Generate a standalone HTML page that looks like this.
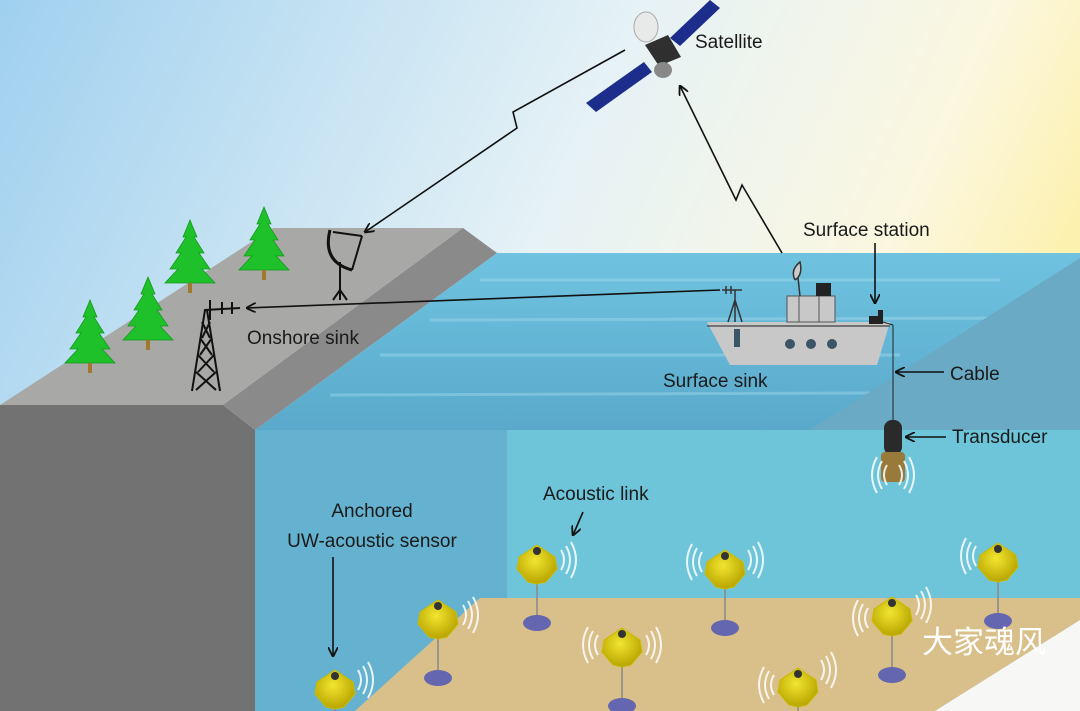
<!DOCTYPE html>
<html><head><meta charset="utf-8"><style>
html,body{margin:0;padding:0;width:1080px;height:711px;overflow:hidden}
svg{display:block}
svg text{font-family:"Liberation Sans","DejaVu Sans",sans-serif;fill:#1a1a1a}
</style></head><body>
<svg width="1080" height="711" viewBox="0 0 1080 711" xmlns="http://www.w3.org/2000/svg">
<defs>
<linearGradient id="sky" x1="0" y1="0" x2="1" y2="0.3">
<stop offset="0" stop-color="#9fd0ef"/><stop offset="0.55" stop-color="#e6f2f6"/><stop offset="0.85" stop-color="#fbf7e0"/><stop offset="1" stop-color="#fdf1b0"/>
</linearGradient>
<linearGradient id="sea" x1="0" y1="0" x2="0" y2="1">
<stop offset="0" stop-color="#6fc3e0"/><stop offset="1" stop-color="#5aa9cb"/>
</linearGradient>
<radialGradient id="ball" cx="0.45" cy="0.4" r="0.6">
<stop offset="0" stop-color="#f2e630"/><stop offset="1" stop-color="#b8a400"/>
</radialGradient>
<marker id="ah" markerWidth="10" markerHeight="10" refX="9" refY="5" orient="auto" markerUnits="userSpaceOnUse">
<path d="M0,0 L10,5 L0,10" fill="none" stroke="#111" stroke-width="1.8"/>
</marker>
<g id="sensor">
<line x1="0" y1="15" x2="0" y2="58" stroke="#888" stroke-width="1.5"/>
<ellipse cx="0" cy="58" rx="14" ry="8" fill="#6466b0"/>
<path d="M0,-20 L18,-8 L20,4 L9,17 L0,19 L-9,17 L-20,4 L-18,-8 Z" fill="url(#ball)" stroke="#c9bb00" stroke-width="1"/>
<circle cx="0" cy="-14" r="4" fill="#333"/>
</g>
<g id="waves" fill="none" stroke="#fff" stroke-width="2" opacity="0.85">
<path d="M6,-10 Q12,0 6,10"/><path d="M11,-14 Q19,0 11,14"/><path d="M16,-18 Q26,0 16,18"/>
</g>
<g id="tree">
<path d="M0,-45 L7,-28 L4,-28 L14,-12 L9,-12 L20,4 L12,4 L25,18 L-25,18 L-12,4 L-20,4 L-9,-12 L-14,-12 L-4,-28 L-7,-28 Z" fill="#1fc12a" stroke="#139a1d" stroke-width="0.8"/>
<rect x="-2" y="18" width="4" height="10" fill="#a07830"/>
</g>
</defs>
<rect width="1080" height="711" fill="url(#sky)"/>
<polygon points="497,253 1080,253 1080,430 255,430" fill="url(#sea)"/>
<g stroke="#9bd6ea" stroke-width="3" opacity="0.5">
<line x1="480" y1="280" x2="1000" y2="280"/><line x1="430" y1="320" x2="1050" y2="318"/><line x1="380" y1="355" x2="900" y2="355"/><line x1="330" y1="395" x2="880" y2="393"/>
</g>
<polygon points="1080,258 1080,430 810,430" fill="#6aaac4"/>
<rect x="255" y="430" width="825" height="281" fill="#6ec5da"/>
<polygon points="255,430 507,430 507,598 480,598 355,711 255,711" fill="#64b2cf"/>
<polygon points="480,598 1080,598 1080,620 935,711 355,711" fill="#d9bf8a"/>
<polygon points="1080,620 1080,711 935,711" fill="#f7f7f5"/>
<polygon points="0,405 273,228 463,228 223,405" fill="#a8a8a6"/>
<polygon points="223,405 463,228 497,253 255,430" fill="#8a8a8a"/>
<polygon points="0,405 223,405 255,430 255,711 0,711" fill="#727272"/>
<use href="#tree" x="90" y="345"/>
<use href="#tree" x="148" y="322"/>
<use href="#tree" x="190" y="265"/>
<use href="#tree" x="264" y="252"/>
<g stroke="#111" fill="none" stroke-width="2">
<path d="M330,230 Q322,262 352,270" stroke-width="3"/>
<line x1="333" y1="232" x2="362" y2="236"/><line x1="362" y1="236" x2="352" y2="270"/>
<line x1="340" y1="262" x2="340" y2="298"/><path d="M333,300 L340,290 L347,300 M340,290 L340,300"/>
</g>
<g stroke="#111" fill="none" stroke-width="2">
<path d="M192,391 L205,310 L207,310 L220,391"/>
<path d="M198,355 L214,372 M214,355 L198,372 M200,338 L212,355 M212,338 L200,355 M202,322 L210,338 M210,322 L202,338 M196,372 L216,390 M216,372 L196,390"/>
<line x1="205" y1="310" x2="240" y2="308"/><line x1="210" y1="300" x2="210" y2="320"/><line x1="222" y1="302" x2="222" y2="314"/><line x1="232" y1="302" x2="232" y2="314"/>
</g>
<polygon points="707,322 890,322 877,365 730,365" fill="#c8c8c8"/>
<line x1="707" y1="326" x2="890" y2="326" stroke="#555" stroke-width="1.5"/>
<rect x="787" y="296" width="48" height="26" fill="#c8c8c8" stroke="#555" stroke-width="1"/>
<line x1="799" y1="296" x2="799" y2="322" stroke="#555"/><line x1="819" y1="296" x2="819" y2="322" stroke="#555"/>
<rect x="816" y="283" width="15" height="13" fill="#222"/>
<rect x="734" y="329" width="6" height="18" fill="#3b5566"/>
<circle cx="790" cy="344" r="5" fill="#3b5566"/><circle cx="811" cy="344" r="5" fill="#3b5566"/><circle cx="832" cy="344" r="5" fill="#3b5566"/>
<path d="M795,280 Q790,270 800,262 Q803,275 795,280 M798,278 L800,296" stroke="#333" fill="#ccc" stroke-width="1.5"/>
<path d="M735,290 L735,322 M728,322 L735,300 L742,322 M722,290 L742,290 M726,286 L726,294 M731,286 L731,294" stroke="#333" fill="none" stroke-width="1.5"/>
<rect x="869" y="316" width="14" height="8" fill="#222"/><rect x="878" y="310" width="5" height="6" fill="#222"/>
<line x1="883" y1="322" x2="893" y2="325" stroke="#222" stroke-width="1"/>
<line x1="893" y1="325" x2="893" y2="420" stroke="#222" stroke-width="1"/>
<rect x="884" y="420" width="18" height="35" rx="8" fill="#2a2a2a"/>
<rect x="881" y="452" width="24" height="30" rx="4" fill="#9a7a3a"/>
<use href="#waves" x="893" y="475"/>
<g transform="translate(893,475) scale(-1,1)"><use href="#waves"/></g>
<!-- satellite -->
<polygon points="670,38 710,0 720,8 680,46" fill="#1c2d8c"/>
<polygon points="586,103 644,62 652,72 596,112" fill="#1c2d8c"/>
<ellipse cx="646" cy="27" rx="12" ry="15" fill="#e8eaea" stroke="#aaa"/>
<polygon points="645,45 668,35 681,57 659,66" fill="#2f2f2f"/>
<ellipse cx="663" cy="70" rx="9" ry="8" fill="#888"/>
<use href="#sensor" x="537" y="565"/><use href="#waves" x="555" y="560"/>
<use href="#sensor" x="725" y="570"/><use href="#waves" x="742" y="560"/><g transform="translate(708,562) scale(-1,1)"><use href="#waves"/></g>
<use href="#sensor" x="998" y="563"/><g transform="translate(982,556) scale(-1,1)"><use href="#waves"/></g>
<use href="#sensor" x="438" y="620"/><use href="#waves" x="457" y="615"/>
<use href="#sensor" x="892" y="617"/><use href="#waves" x="910" y="605"/><g transform="translate(874,618) scale(-1,1)"><use href="#waves"/></g>
<use href="#sensor" x="622" y="648"/><use href="#waves" x="640" y="645"/><g transform="translate(604,645) scale(-1,1)"><use href="#waves"/></g>
<use href="#sensor" x="798" y="688"/><use href="#waves" x="815" y="670"/><g transform="translate(780,685) scale(-1,1)"><use href="#waves"/></g>
<use href="#sensor" x="335" y="690"/><use href="#waves" x="352" y="680"/>
<g stroke="#111" stroke-width="1.6" fill="none">
<polyline points="625,50 513,112 517,128 365,232" marker-end="url(#ah)"/>
<polyline points="782,253 742,185 736,200 680,86" marker-end="url(#ah)"/>
<line x1="720" y1="290" x2="247" y2="308" marker-end="url(#ah)"/>
<line x1="875" y1="243" x2="875" y2="303" marker-end="url(#ah)"/>
<line x1="944" y1="372" x2="896" y2="372" marker-end="url(#ah)"/>
<line x1="946" y1="437" x2="906" y2="437" marker-end="url(#ah)"/>
<line x1="333" y1="557" x2="333" y2="656" marker-end="url(#ah)"/>
<line x1="583" y1="512" x2="573" y2="535" marker-end="url(#ah)"/>
</g>
<text x="695" y="48" font-size="19">Satellite</text>
<text x="803" y="236" font-size="19">Surface station</text>
<text x="247" y="344" font-size="19">Onshore sink</text>
<text x="663" y="387" font-size="19">Surface sink</text>
<text x="950" y="380" font-size="19">Cable</text>
<text x="952" y="443" font-size="19">Transducer</text>
<text x="372" y="517" font-size="19" text-anchor="middle">Anchored</text>
<text x="372" y="547" font-size="19" text-anchor="middle">UW-acoustic sensor</text>
<text x="543" y="500" font-size="19">Acoustic link</text>
<text x="922" y="653" font-size="31" style="fill:#fff;font-family:'Liberation Sans','Noto Sans CJK SC',sans-serif">大家魂风</text>
</svg>
</body></html>
